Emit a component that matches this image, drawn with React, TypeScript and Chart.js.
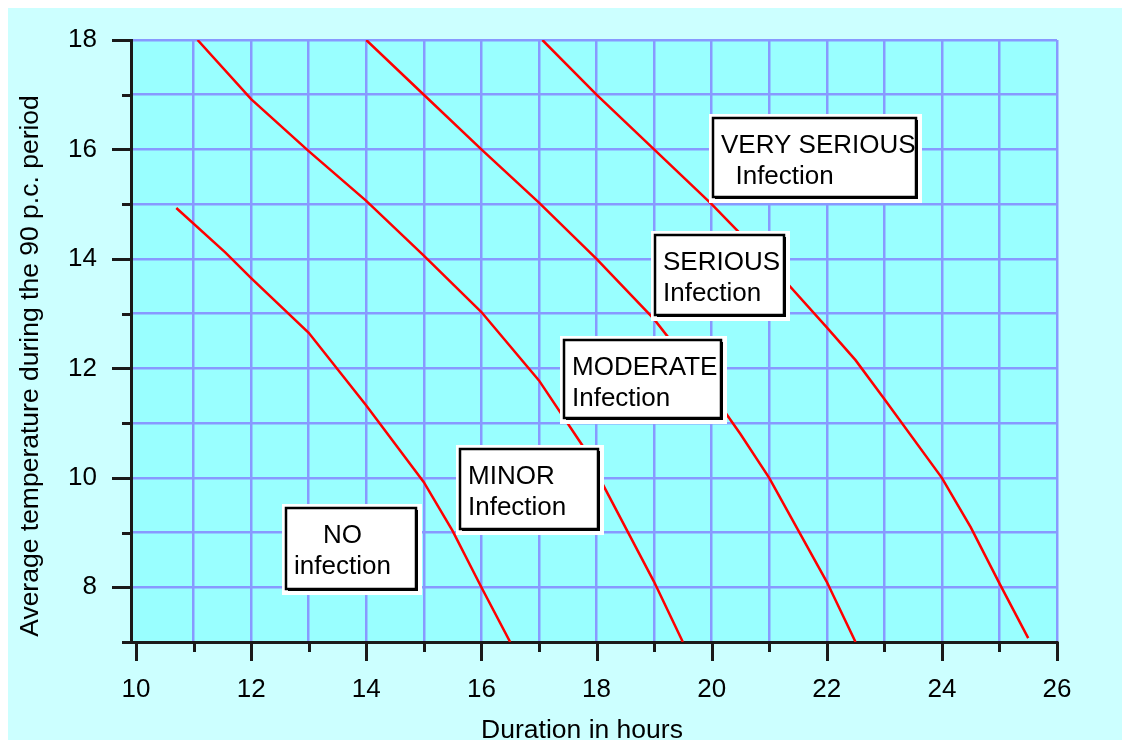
import React, { useEffect, useRef } from "react";
import { Chart, registerables } from "chart.js";

Chart.register(...registerables);

// ---- axis ticks ----
const xTickValues = [10, 11, 12, 13, 14, 15, 16, 17, 18, 19, 20, 21, 22, 23, 24, 25, 26];
const yTickValues = [7, 8, 9, 10, 11, 12, 13, 14, 15, 16, 17, 18];

// ---- boundary curves (duration in hours, average temperature) ----
const noMinorX = [10.7, 11.55, 12, 13, 14, 15, 15.5, 16, 16.5];
const noMinorY = [14.93, 14.12, 13.65, 12.65, 11.32, 9.92, 9.03, 8.0, 7.0];

const minorModerateX = [11.07, 12, 13, 14, 15, 16, 17, 17.75, 18, 18.5, 19, 19.5];
const minorModerateY = [18, 16.92, 15.97, 15.06, 14.06, 13.03, 11.78, 10.6, 10.1, 9.1, 8.1, 7.0];

const moderateSeriousX = [14, 15, 16, 17, 18, 19, 20, 20.5, 21, 21.5, 22, 22.5];
const moderateSeriousY = [18, 17.0, 16.0, 15.03, 14.0, 12.9, 11.55, 10.8, 10.0, 9.05, 8.1, 7.0];

const seriousVeryX = [17.06, 18, 19, 20, 21, 22, 22.5, 23, 24, 24.5, 25, 25.5];
const seriousVeryY = [18, 17.0, 16.0, 15.0, 13.92, 12.75, 12.15, 11.44, 10.0, 9.1, 8.07, 7.07];

// ---- zone labels ----
const zoneLines = [
  ["    NO", "infection"],
  ["MINOR", "Infection"],
  ["MODERATE", "Infection"],
  ["SERIOUS", "Infection"],
  ["VERY SERIOUS", "  Infection"],
];

// annotation placement (data units for top-left corner, pixel box sizes)
const zoneAnchorX = [12.61, 15.62, 17.43, 19.01, 20.03];
const zoneAnchorY = [9.44, 10.52, 12.52, 14.43, 16.57];
const zoneBoxW = [130, 138, 157, 129, 203];
const zoneBoxH = [81, 80, 78, 80, 79];

const FONT = '"Liberation Sans", Arial, sans-serif';
const OUTER_BG = "#ccffff";
const PLOT_BG = "#99ffff";
const GRID = "#8899ff";
const RED = "#ff0000";

const toPoints = (xs: number[], ys: number[]) => xs.map((x, i) => ({ x, y: ys[i] }));

const decorPlugin = {
  id: "decor",
  beforeDraw(chart: any) {
    const { ctx, chartArea: a } = chart;
    ctx.save();
    ctx.fillStyle = OUTER_BG;
    ctx.fillRect(0, 0, chart.width, chart.height);
    ctx.fillStyle = PLOT_BG;
    ctx.fillRect(a.left, a.top, a.right - a.left, a.bottom - a.top);
    ctx.restore();
  },
  afterDraw(chart: any) {
    const { ctx, chartArea: a } = chart;
    const xs = chart.scales.x;
    const ys = chart.scales.y;
    ctx.save();
    // tick marks
    ctx.strokeStyle = "#1a1a1a";
    ctx.lineWidth = 3;
    ctx.beginPath();
    xs.ticks.forEach((t: any) => {
      const px = Math.round(xs.getPixelForValue(t.value)) + 0.5;
      const len = t.value % 2 === 0 ? 19 : 10;
      ctx.moveTo(px, a.bottom);
      ctx.lineTo(px, a.bottom + len);
    });
    ys.ticks.forEach((t: any) => {
      const py = Math.round(ys.getPixelForValue(t.value)) + 0.5;
      const len = t.value % 2 === 0 ? 19 : 9;
      ctx.moveTo(a.left, py);
      ctx.lineTo(a.left - len, py);
    });
    ctx.stroke();

    // axis titles
    ctx.fillStyle = "#000";
    ctx.font = `26.5px ${FONT}`;
    ctx.textAlign = "center";
    ctx.textBaseline = "alphabetic";
    ctx.fillText("Duration in hours", (a.left + a.right) / 2 - 12, chart.height - 2);
    ctx.save();
    ctx.translate(29.5, (a.top + a.bottom) / 2 + 25);
    ctx.rotate(-Math.PI / 2);
    ctx.fillText("Average temperature during the 90 p.c. period", 0, 0);
    ctx.restore();

    // zone boxes
    ctx.font = `26px ${FONT}`;
    ctx.textAlign = "left";
    zoneLines.forEach((lines, i) => {
      const bx = Math.round(xs.getPixelForValue(zoneAnchorX[i]));
      const by = Math.round(ys.getPixelForValue(zoneAnchorY[i]));
      const w = zoneBoxW[i];
      const h = zoneBoxH[i];
      ctx.fillStyle = "#ffffff";
      ctx.fillRect(bx - 4, by - 4, w + 10, h + 10);
      ctx.fillStyle = "#000";
      ctx.fillRect(bx + 2, by + 2, w, h);
      ctx.fillStyle = "#ffffff";
      ctx.fillRect(bx, by, w, h);
      ctx.strokeStyle = "#000";
      ctx.lineWidth = 2.5;
      ctx.strokeRect(bx, by, w, h);
      ctx.fillStyle = "#000";
      ctx.fillText(lines[0], bx + 8, by + 35);
      ctx.fillText(lines[1], bx + 8, by + 66);
    });
    ctx.restore();
  },
};

export default function App() {
  const ref = useRef<HTMLCanvasElement | null>(null);

  useEffect(() => {
    document.documentElement.style.overflow = "hidden";
    document.body.style.margin = "8px 0 0 8px";
    if (!ref.current) return;
    const mk = (xs: number[], ysv: number[]) => ({
      data: toPoints(xs, ysv),
      showLine: true,
      borderColor: RED,
      backgroundColor: RED,
      borderWidth: 2.5,
      pointRadius: 0,
      fill: false,
      tension: 0,
    });
    const chart = new Chart(ref.current, {
      type: "scatter",
      data: {
        datasets: [
          mk(noMinorX, noMinorY),
          mk(minorModerateX, minorModerateY),
          mk(moderateSeriousX, moderateSeriousY),
          mk(seriousVeryX, seriousVeryY),
        ],
      },
      options: {
        animation: false,
        responsive: false,
        events: [],
        layout: { padding: { top: 32, right: 65, left: 0, bottom: 0 } },
        plugins: { legend: { display: false }, tooltip: { enabled: false } },
        scales: {
          x: {
            type: "linear",
            min: 9.913,
            max: 26,
            afterBuildTicks: (scale: any) => {
              scale.ticks = xTickValues.map((value) => ({ value }));
            },
            afterFit: (scale: any) => {
              scale.height = 98;
            },
            grid: {
              color: (c: any) => (c.tick && c.tick.value === 10 ? "rgba(0,0,0,0)" : GRID),
              lineWidth: 2.5,
              tickLength: 19,
              tickColor: "rgba(0,0,0,0)",
            },
            border: { display: true, color: "#1a1a1a", width: 3 },
            ticks: {
              autoSkip: false,
              maxRotation: 0,
              padding: 13,
              color: "#000",
              font: { family: FONT, size: 26 },
              callback: (v: any) => (Number(v) % 2 === 0 ? String(v) : ""),
            },
          },
          y: {
            type: "linear",
            min: 7,
            max: 18,
            afterBuildTicks: (scale: any) => {
              scale.ticks = yTickValues.map((value) => ({ value }));
            },
            afterFit: (scale: any) => {
              scale.width = 123;
            },
            grid: {
              color: GRID,
              lineWidth: 2.5,
              tickLength: 19,
              tickColor: "rgba(0,0,0,0)",
            },
            border: { display: true, color: "#1a1a1a", width: 3 },
            ticks: {
              autoSkip: false,
              padding: 15,
              color: "#000",
              font: { family: FONT, size: 26 },
              callback: (v: any) => (Number(v) % 2 === 0 ? String(v) : ""),
            },
          },
        },
      },
      plugins: [decorPlugin],
    });
    return () => chart.destroy();
  }, []);

  return (
    <div style={{ width: 1114, height: 732 }}>
      <canvas ref={ref} width={1114} height={732} style={{ display: "block" }} />
    </div>
  );
}
